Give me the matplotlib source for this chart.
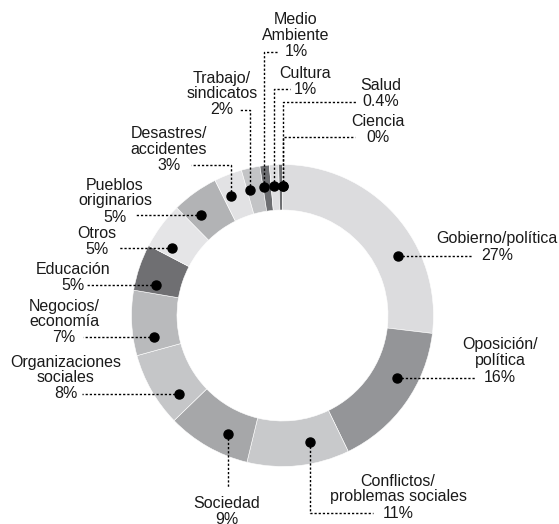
import numpy as np
import matplotlib
matplotlib.use("Agg")
import matplotlib.pyplot as plt

plt.rcParams['font.family'] = ['Liberation Sans', 'DejaVu Sans']

# data (clockwise from 12 o'clock)
names = ["Gobierno/política", "Oposición/\npolítica", "Conflictos/\nproblemas sociales",
         "Sociedad", "Organizaciones\nsociales", "Negocios/\neconomía", "Educación",
         "Otros", "Pueblos\noriginarios", "Desastres/\naccidentes", "Trabajo/\nsindicatos",
         "Medio\nAmbiente", "Cultura", "Salud", "Ciencia"]
values = [27, 16, 11, 9, 8, 7, 5, 5, 5, 3, 2, 1, 1, 0.4, 0]
pct_labels = ["27%", "16%", "11%", "9%", "8%", "7%", "5%", "5%", "5%", "3%", "2%",
              "1%", "1%", "0.4%", "0%"]
colors = ["#dcdcde", "#949598", "#c8c9cb", "#a6a7a9", "#c5c6c8", "#b9babc", "#6f6f72",
          "#e5e5e7", "#b2b3b5", "#e2e2e4", "#c3c4c6", "#6d6e71", "#dfdfe1", "#6d6e71",
          "#6d6e71"]

# layout, in picture pixels (y measured from top)
W, H = 559, 524
cx, cy = 282.5, 315.5
r_out, r_in, r_dot = 151, 105.5, 130
# where the dot sits inside its slice (0 = clockwise start, 1 = end)
dot_frac = [0.65, 0.38, 0.34, 0.34, 0.24, 0.24, 0.22, 0.21, 0.30, 0.29, 0.18, 0.17, 0.37, 1.0, 1.0]
# (text centre x, y of the percent line, leader kind, leader end x, leader end y)
label_pos = [
    (497, 255, "h", 472, None),
    (500, 377, "h", 476, None),
    (398, 513, "vh", 373, 513),
    (227, 520, "v", None, 487),
    (66, 394, "h", 82, None),
    (64, 338, "h", 83, None),
    (73, 285, "h", 87, None),
    (97, 249, "h", 118, None),
    (115, 217, "h", 135, None),
    (169, 166, "vh", 191, 165),
    (222, 110, "vh", 240, 110),
    (296, 52, "vh", 279, 52),
    (305, 89, "vh", 290, 89),
    (381, 102, "vh", 357, 102),
    (378, 137, "vh", 355, 137),
]
line_gap = 16
font_px = 16

fig = plt.figure(figsize=(W / 100, H / 100), dpi=100)
ax = fig.add_axes([0, 0, 1, 1])

wedges, _ = ax.pie(values, colors=colors, radius=r_out, center=(cx, H - cy),
                   startangle=90, counterclock=False,
                   wedgeprops=dict(width=r_out - r_in, edgecolor="white", linewidth=0.4))
ax.set_xlim(0, W)
ax.set_ylim(0, H)
ax.set_aspect("equal")
ax.axis("off")

fs = font_px * 72 / 100
dash = dict(color="black", lw=1.0, linestyle=(0, (1.6, 1.4)))

for w, name, pct, frac, (tx, ty, kind, ex, ey) in zip(wedges, names, pct_labels, dot_frac, label_pos):
    # clockwise: slice starts at theta2 and ends at theta1
    ang = np.deg2rad(w.theta2 - frac * (w.theta2 - w.theta1))
    dx = cx + r_dot * np.cos(ang)
    dy = (H - cy) + r_dot * np.sin(ang)
    if kind == "h":
        ax.plot([dx, ex], [dy, dy], **dash)
    elif kind == "v":
        ax.plot([dx, dx], [dy, H - ey], **dash)
    else:
        ax.plot([dx, dx, ex], [dy, H - ey, H - ey], **dash)
    ax.plot(dx, dy, "o", color="black", markersize=6.5, zorder=5)

    lines = name.split("\n") + [pct]
    n = len(lines)
    for i, s in enumerate(lines):
        y = ty - (n - 1 - i) * line_gap
        ax.text(tx, H - y, s, ha="center", va="center", fontsize=fs, color="#1a1a1a")

fig.savefig("out.png", dpi=100)
